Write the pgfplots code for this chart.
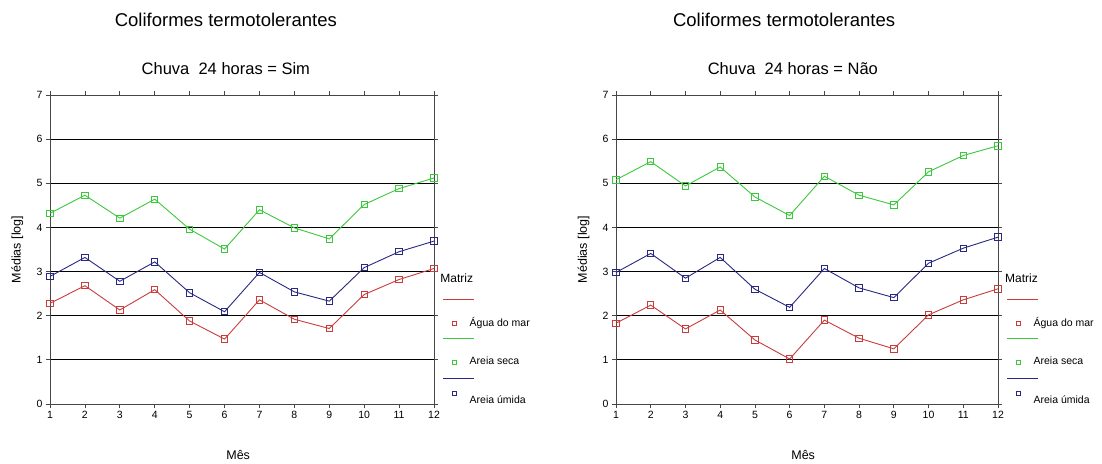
\documentclass[border=0pt]{standalone}
\usepackage{pgfplots}
\usepackage{pgfplotstable}
\pgfplotsset{compat=1.18}
\usepackage{fontspec}
\setmainfont{Liberation Sans}
\definecolor{cred}{RGB}{200,60,60}
\definecolor{cgreen}{RGB}{60,200,60}
\definecolor{cblue}{RGB}{40,40,130}
\definecolor{cframe}{RGB}{70,70,70}

% Chuva 24 horas = Sim
\pgfplotstableread{
mes agua seca umida
1  2.28 4.32 2.89
2  2.68 4.73 3.32
3  2.13 4.21 2.78
4  2.59 4.64 3.22
5  1.88 3.96 2.52
6  1.47 3.51 2.09
7  2.36 4.40 2.98
8  1.92 3.99 2.54
9  1.71 3.74 2.33
10 2.48 4.52 3.09
11 2.82 4.88 3.45
12 3.07 5.12 3.69
}\sim
% Chuva 24 horas = Nao
\pgfplotstableread{
mes agua seca umida
1  1.83 5.08 2.98
2  2.24 5.49 3.41
3  1.70 4.94 2.85
4  2.13 5.37 3.32
5  1.45 4.69 2.60
6  1.02 4.27 2.19
7  1.90 5.16 3.07
8  1.49 4.73 2.63
9  1.25 4.51 2.41
10 2.02 5.26 3.19
11 2.36 5.63 3.53
12 2.61 5.85 3.78
}\nao

\pgfplotsset{
  legA/.style={legend image code/.code={
      \pgfpathrectangle{\pgfpoint{0pt}{-2.5pt}}{\pgfpoint{5pt}{5pt}}\pgfusepath{}
      \draw[mark=none,overlay] (-8.5pt,24pt) -- (22.5pt,24pt);
      \draw[overlay,mark size=2.2pt,mark options={line width=0.8pt}] plot coordinates {(2.5pt,0pt)};
  }},
  legB/.style={legend image code/.code={
      \pgfpathrectangle{\pgfpoint{0pt}{-2.5pt}}{\pgfpoint{5pt}{5pt}}\pgfusepath{}
      \draw[mark=none,overlay] (-8.5pt,22pt) -- (22.5pt,22pt);
      \draw[overlay,mark size=2.2pt,mark options={line width=0.8pt}] plot coordinates {(2.5pt,7pt)};
  }},
  myaxis/.style={
    scale only axis, height=309pt, clip=false,
    xmin=1, xmax=12, ymin=0, ymax=7,
    xtick={1,...,12}, ytick={0,...,7},
    ymajorgrids, major grid style={black, line width=0.9pt},
    axis line style={cframe, line width=0.9pt},
    tick style={cframe, line width=0.8pt},
    tick align=outside, major tick length=4pt,
    ticklabel style={font=\fontsize{10.5}{12}\selectfont},
    /pgf/number format/assume math mode=true,
    xlabel={Mês}, ylabel={Médias [log]},
    xlabel style={font=\fontsize{12.5}{14}\selectfont, at={(axis description cs:0.49,-0.165)}, anchor=center},
    ylabel style={font=\fontsize{12.5}{14}\selectfont, at={(axis description cs:-0.085,0.5)}, anchor=center},
    legend cell align=left,
    legend style={at={(axis description cs:1.0456,0.2816)}, anchor=north west,
      draw=none, fill=none, inner sep=0pt, row sep=25.5pt, column sep=12pt,
      font=\fontsize{10.5}{12}\selectfont,
      nodes={inner sep=1pt, text height=8pt, text depth=3pt}},
    every axis plot/.append style={line width=0.9pt, mark=square, mark size=3.2pt, mark options={solid, line width=0.9pt}},
  }
}

\begin{document}
\begin{tikzpicture}
\useasboundingbox (0pt,0pt) rectangle (1102pt,463pt);
\begin{axis}[myaxis, width=384pt, at={(50pt,59pt)}, anchor=south west]
  \addplot[cred, legA] table[x=mes,y=agua] {\sim};
  \addlegendentry{Água do mar}
  \addplot[cgreen, legA] table[x=mes,y=seca] {\sim};
  \addlegendentry{Areia seca}
  \addplot[cblue, legB] table[x=mes,y=umida] {\sim};
  \addlegendentry{Areia úmida}
  \node[font=\fontsize{18.5}{20}\selectfont] at (axis description cs:0.458,1.243) {Coliformes termotolerantes};
  \node[font=\fontsize{16.5}{18}\selectfont] at (axis description cs:0.458,1.087) {Chuva\ \ 24 horas = Sim};
  \node[font=\fontsize{12}{14}\selectfont, anchor=west, inner sep=0pt] at (axis description cs:1.016,0.408) {Matriz};
\end{axis}
\begin{axis}[myaxis, width=382pt, at={(616pt,59pt)}, anchor=south west]
  \addplot[cred, legA] table[x=mes,y=agua] {\nao};
  \addlegendentry{Água do mar}
  \addplot[cgreen, legA] table[x=mes,y=seca] {\nao};
  \addlegendentry{Areia seca}
  \addplot[cblue, legB] table[x=mes,y=umida] {\nao};
  \addlegendentry{Areia úmida}
  \node[font=\fontsize{18.5}{20}\selectfont] at (axis description cs:0.44,1.243) {Coliformes termotolerantes};
  \node[font=\fontsize{16.5}{18}\selectfont] at (axis description cs:0.463,1.087) {Chuva\ \ 24 horas = Não};
  \node[font=\fontsize{12}{14}\selectfont, anchor=west, inner sep=0pt] at (axis description cs:1.018,0.408) {Matriz};
\end{axis}
\end{tikzpicture}
\end{document}
